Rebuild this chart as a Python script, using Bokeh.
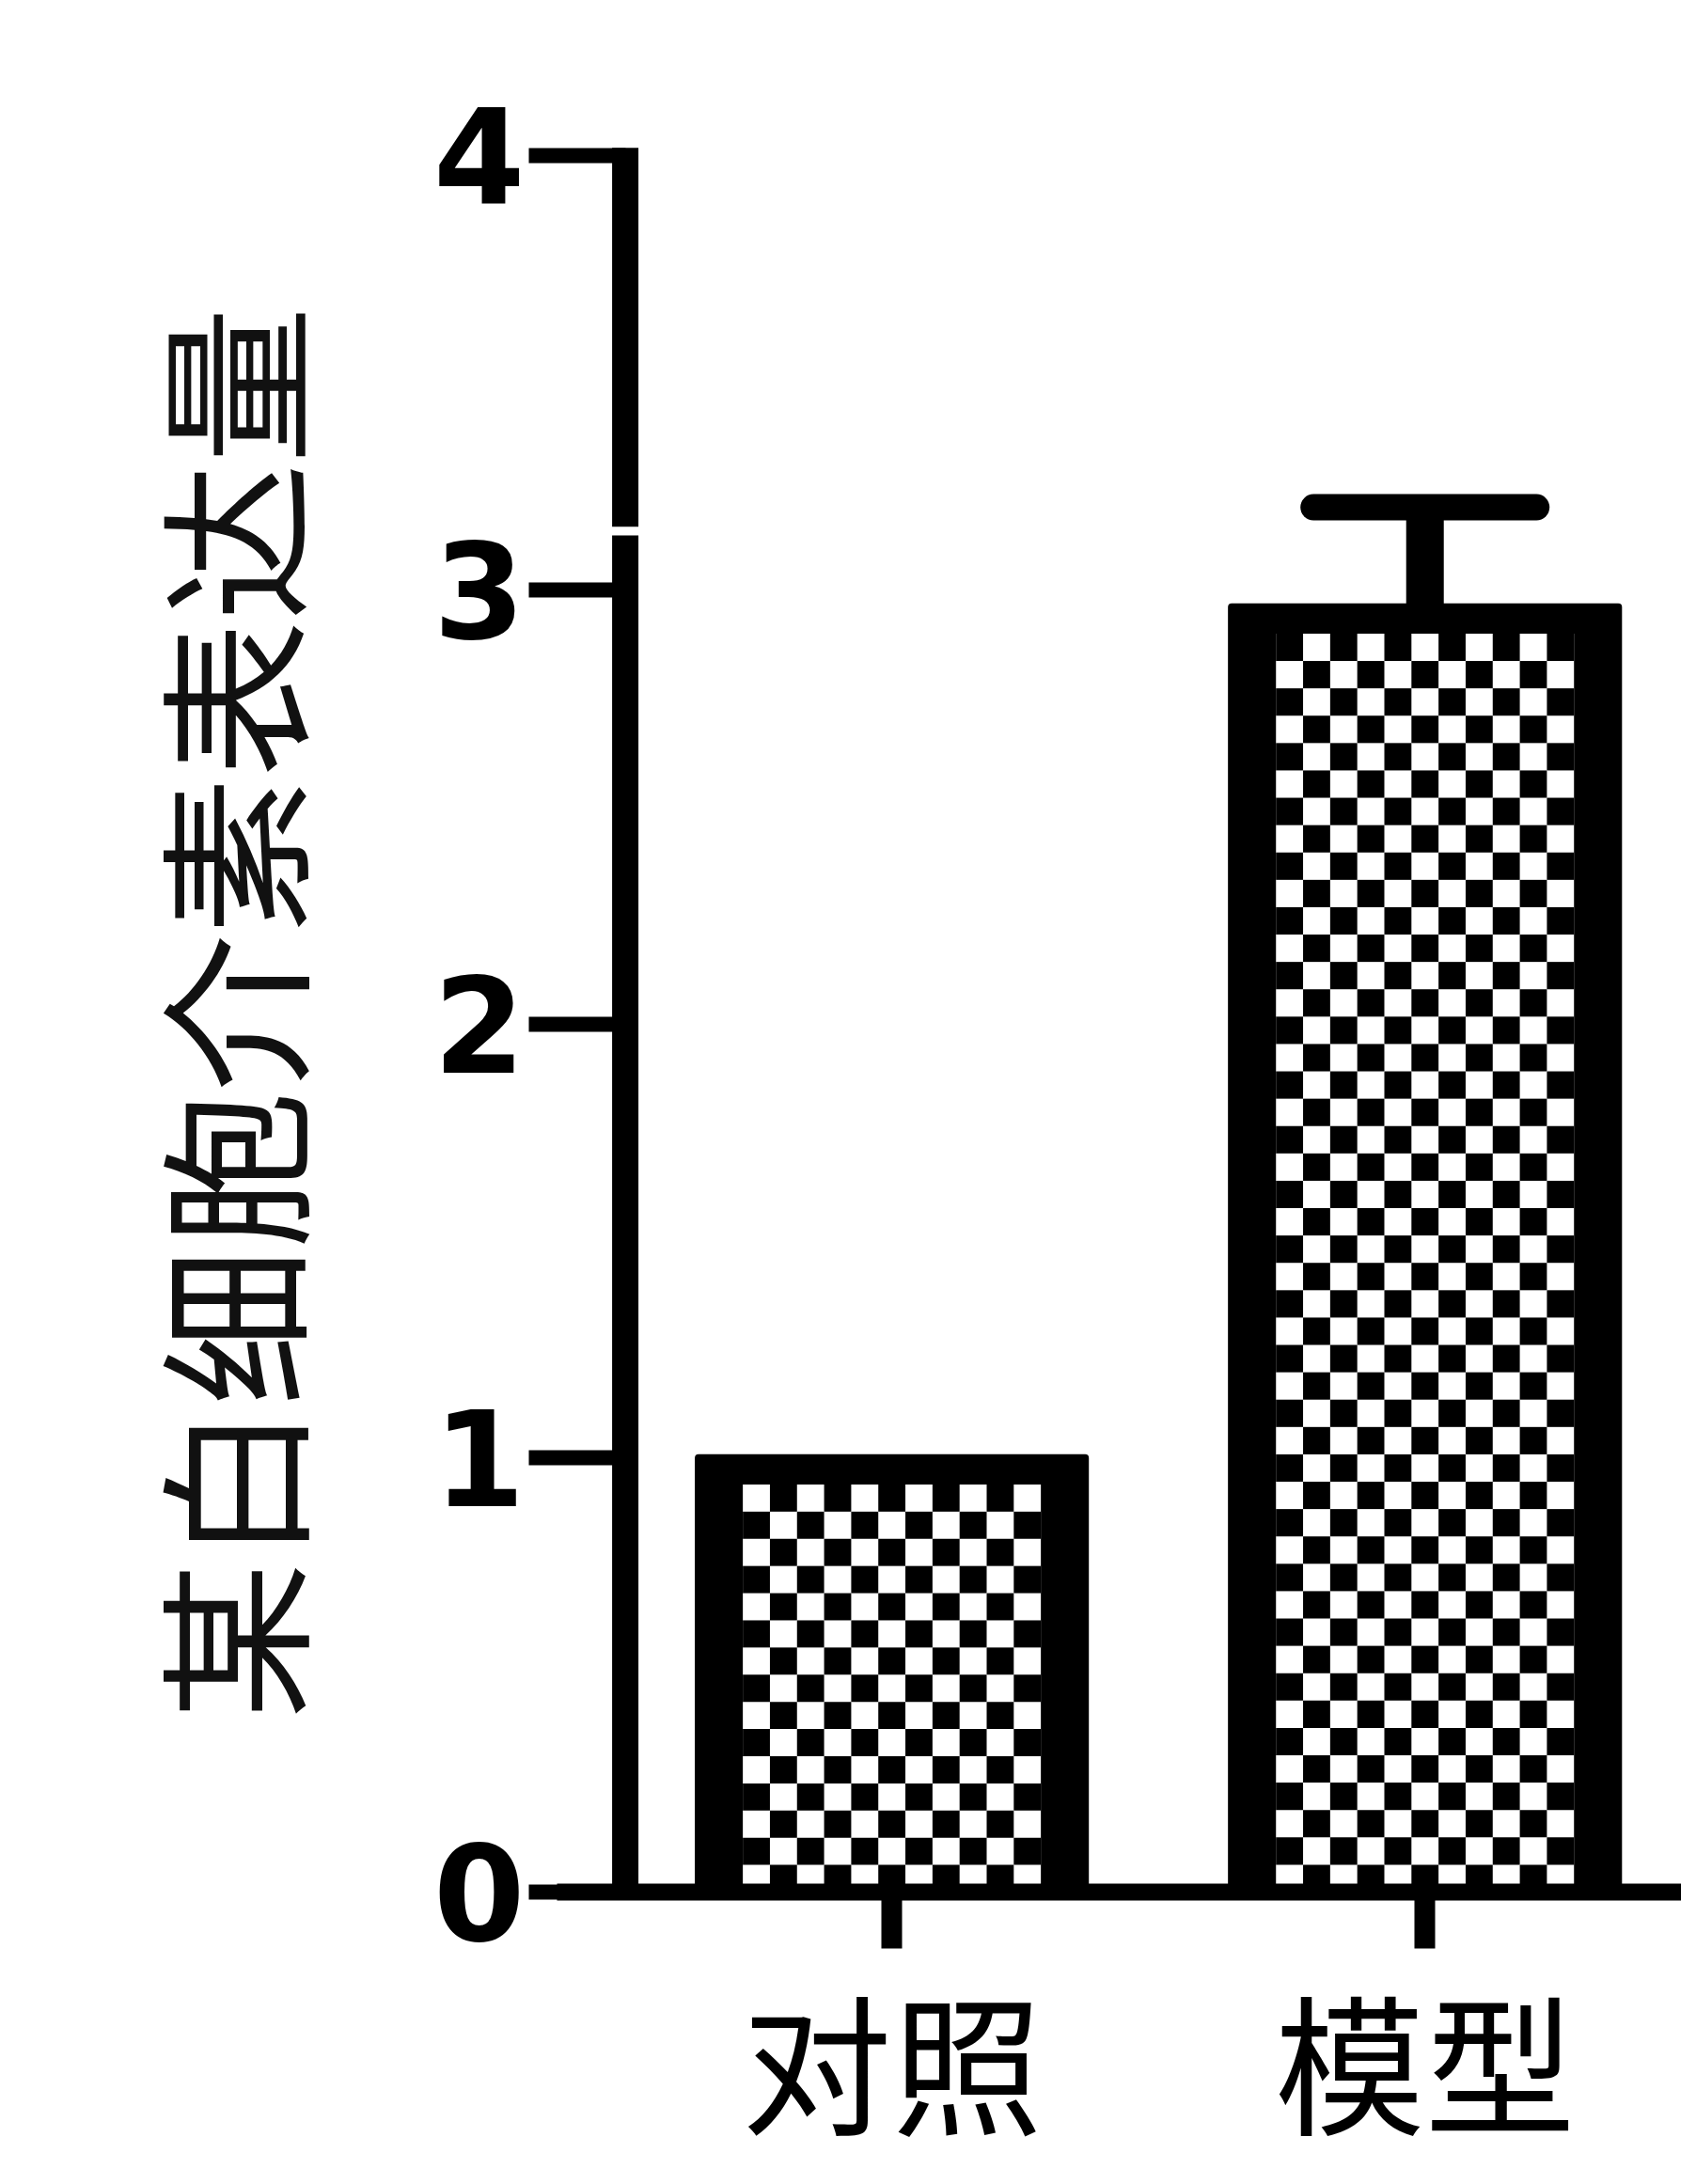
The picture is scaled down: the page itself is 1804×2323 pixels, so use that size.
import numpy as np
from bokeh.plotting import figure
from bokeh.models import FixedTicker, Whisker, TeeHead, ColumnDataSource, Range1d
from bokeh.embed import file_html
from bokeh.resources import INLINE

# ---- data ----
categories = ["对照", "模型"]
means = [1.0, 2.96]
errors = [0.0, 0.23]
y_ticks = [0, 1, 2, 3, 4]
y_label = "某白细胞介素表达量"

xpos = [i + 1 for i in range(len(categories))]

# ---- style constants ----
BAR_W = 0.725      # outer bar width (data units)
SIDE = 0.083       # side outline thickness (data units)
TOP = 0.061        # top outline thickness (data units)
NCOL = 11          # checker columns
CELL_H = 0.063     # approx checker cell height (data units)
AXIS_X = 0.5
BREAK_LO, BREAK_HI = 3.125, 3.145

p = figure(width=1788, height=2307, output_backend="svg", toolbar_location=None,
           x_range=Range1d(0.372, 2.481), y_range=Range1d(0, 4.05),
           min_border_left=592, min_border_right=0, min_border_top=142,
           min_border_bottom=290)
p.outline_line_color = None
p.grid.visible = False
p.background_fill_color = "white"
p.border_fill_color = "white"

# outer black bar (thick outline)
p.vbar(x=xpos, top=means, bottom=0, width=BAR_W, fill_color="black",
       line_color="black", line_width=8, line_join="round")

# interior white area
lefts = [x - BAR_W / 2 + SIDE for x in xpos]
rights = [x + BAR_W / 2 - SIDE for x in xpos]
inner_tops = [m - TOP for m in means]
p.quad(left=lefts, right=rights, top=inner_tops, bottom=0,
       fill_color="white", line_color=None)

# checker pattern cells
cl, cr, cb, ct = [], [], [], []
for L, R, T in zip(lefts, rights, inner_tops):
    nrow = max(1, int(round(T / CELL_H)))
    ch = T / nrow
    cw = (R - L) / NCOL
    for r in range(nrow):
        for c in range(NCOL):
            if (r + c) % 2 == 1:
                cl.append(L + c * cw)
                cr.append(L + (c + 1) * cw)
                cb.append(r * ch)
                ct.append((r + 1) * ch)
p.quad(left=cl, right=cr, bottom=cb, top=ct, fill_color="black", line_color=None)

# error bars (upper only)
ex = [x for x, e in zip(xpos, errors) if e > 0]
elo = [m for m, e in zip(means, errors) if e > 0]
ehi = [m + e for m, e in zip(means, errors) if e > 0]
esrc = ColumnDataSource(dict(base=ex, lower=elo, upper=ehi))
w = Whisker(source=esrc, base="base", lower="lower", upper="upper",
            line_color="black", line_width=40,
            upper_head=TeeHead(size=237, line_color="black", line_width=28, line_cap="round"),
            lower_head=None)
p.add_layout(w)

# y axis line with a small break
p.segment(x0=[AXIS_X, AXIS_X], x1=[AXIS_X, AXIS_X],
          y0=[0, BREAK_HI], y1=[BREAK_LO, y_ticks[-1] + 0.018],
          line_color="black", line_width=28, line_cap="butt")

# y axis
ya = p.yaxis[0]
ya.ticker = FixedTicker(ticks=y_ticks)
ya.axis_line_color = None
ya.major_tick_in = 73
ya.major_tick_out = 30
ya.major_tick_line_width = 16
ya.minor_tick_line_color = None
ya.major_label_standoff = 4
ya.major_label_text_font = "DejaVu Sans"
ya.major_label_text_font_style = "bold"
ya.major_label_text_font_size = "140px"
ya.major_label_text_color = "black"
ya.axis_label = y_label
ya.axis_label_text_font = "Noto Sans CJK SC"
ya.axis_label_text_font_style = "normal"
ya.axis_label_text_font_size = "167px"
ya.axis_label_text_color = "#111111"
ya.axis_label_standoff = 95

# x axis
xa = p.xaxis[0]
xa.ticker = FixedTicker(ticks=xpos)
xa.major_label_overrides = {x: c for x, c in zip(xpos, categories)}
xa.axis_line_width = 18
xa.axis_line_color = "black"
xa.major_tick_in = 0
xa.major_tick_out = 60
xa.major_tick_line_width = 22
xa.minor_tick_line_color = None
xa.major_label_standoff = 0
xa.major_label_text_font = "Noto Sans CJK SC"
xa.major_label_text_font_size = "160px"
xa.major_label_text_color = "black"

open("out.html", "w").write(file_html(p, INLINE))
